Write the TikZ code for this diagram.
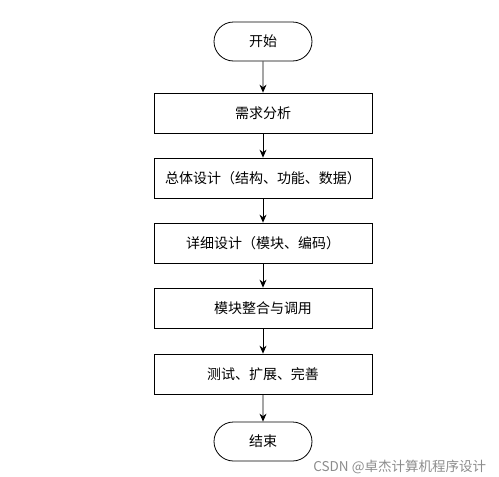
\documentclass[tikz,border=0pt]{standalone}
\usepackage{fontspec}
\setmainfont{Noto Sans CJK SC}
\usetikzlibrary{shapes.misc,arrows.meta,positioning}
\tikzstyle{term}=[draw,rounded rectangle,minimum width=98pt,minimum height=39pt,inner sep=0pt,font=\fontsize{14}{16}\selectfont]
\tikzstyle{stepbox}=[draw,rectangle,minimum width=218pt,minimum height=40pt,inner sep=0pt,font=\fontsize{14}{16}\selectfont]
\tikzstyle{flow}=[-{Stealth[length=8pt,width=7pt]},line width=0.8pt]

\begin{document}
\begin{tikzpicture}[x=1pt, y=1pt, on grid, node distance=65pt, line width=0.8pt]
  \useasboundingbox (0,0) rectangle (499,-477);
  \node[stepbox]                     (s1)    at (263,-113) {需求分析};
  \node[term, above=71.5pt of s1]    (start) {开始};
  \node[stepbox, below=of s1]        (s2)    {总体设计（结构、功能、数据）};
  \node[stepbox, below=of s2]        (s3)    {详细设计（模块、编码）};
  \node[stepbox, below=of s3]        (s4)    {模块整合与调用};
  \node[stepbox, below=66pt of s4]   (s5)    {测试、扩展、完善};
  \node[term, below=67.5pt of s5]    (stop)  {结束};

  \draw[flow] (start) -- (s1);
  \draw[flow] (s1) -- (s2);
  \draw[flow] (s2) -- (s3);
  \draw[flow] (s3) -- (s4);
  \draw[flow] (s4) -- (s5);
  \draw[flow] (s5) -- (stop);

  \node[anchor=base west, inner sep=0pt, text=black!45, font=\fontsize{13.5}{15}\selectfont] (mark) at (313,-471) {CSDN @卓杰计算机程序设计};
\end{tikzpicture}
\end{document}
